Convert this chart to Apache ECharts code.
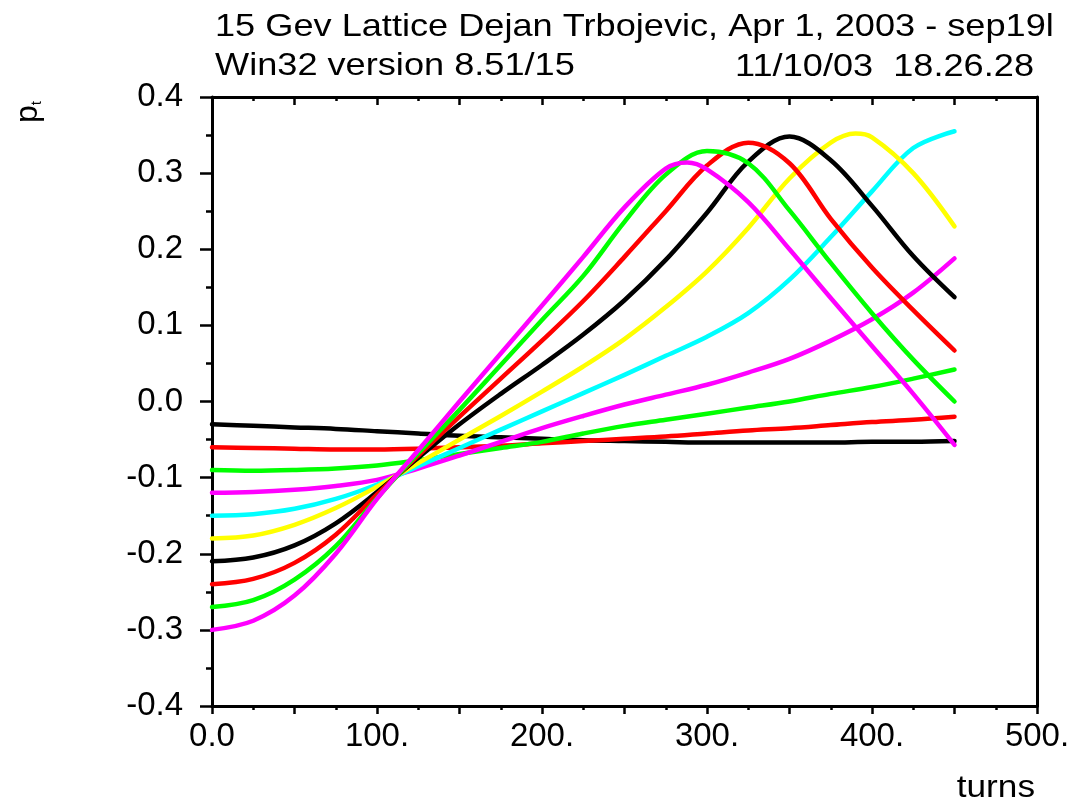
<!DOCTYPE html>
<html>
<head>
<meta charset="utf-8">
<script src="https://cdn.jsdelivr.net/npm/echarts@6/dist/echarts.min.js"></script>
<style>
html,body{margin:0;padding:0;background:#fff;}
#chart{width:1076px;height:805px;}
</style>
</head>
<body>
<div id="chart"></div>
<script>
// ---- data ----
const turns = [0,25,50,75,100,125,150,175,200,225,250,275,300,325,350,375,400,425,450];

const black1   = [-0.030,-0.032,-0.034,-0.036,-0.039,-0.042,-0.045,-0.047,-0.049,-0.051,-0.052,-0.053,-0.054,-0.054,-0.054,-0.054,-0.053,-0.053,-0.052];
const red2     = [-0.060,-0.061,-0.062,-0.063,-0.063,-0.062,-0.060,-0.058,-0.055,-0.052,-0.049,-0.046,-0.042,-0.038,-0.035,-0.031,-0.027,-0.024,-0.020];
const green3   = [-0.090,-0.091,-0.090,-0.088,-0.084,-0.077,-0.069,-0.061,-0.053,-0.042,-0.032,-0.024,-0.016,-0.008,0.000,0.010,0.019,0.030,0.042];
const magenta4 = [-0.120,-0.119,-0.116,-0.111,-0.103,-0.088,-0.071,-0.053,-0.035,-0.019,-0.004,0.009,0.022,0.038,0.056,0.080,0.108,0.143,0.188];
const cyan5    = [-0.150,-0.148,-0.141,-0.128,-0.109,-0.085,-0.061,-0.037,-0.013,0.011,0.035,0.060,0.085,0.116,0.160,0.216,0.276,0.333,0.355];
const yellow6  = [-0.180,-0.176,-0.162,-0.140,-0.112,-0.081,-0.050,-0.019,0.013,0.046,0.082,0.124,0.171,0.228,0.293,0.340,0.347,0.300,0.230];
const black7   = [-0.210,-0.205,-0.189,-0.160,-0.119,-0.074,-0.030,0.010,0.048,0.088,0.133,0.186,0.248,0.315,0.348,0.317,0.257,0.191,0.137];
const red8     = [-0.240,-0.233,-0.212,-0.175,-0.122,-0.071,-0.020,0.030,0.080,0.132,0.190,0.250,0.310,0.340,0.313,0.240,0.176,0.120,0.067];
const green9   = [-0.270,-0.261,-0.234,-0.190,-0.127,-0.068,-0.011,0.048,0.107,0.165,0.236,0.298,0.329,0.313,0.251,0.182,0.116,0.055,0.000];
const magenta10= [-0.300,-0.288,-0.255,-0.200,-0.128,-0.064,0.000,0.063,0.126,0.190,0.255,0.306,0.305,0.262,0.200,0.136,0.073,0.010,-0.057];

// extra points read at the crests that fall between samples: [series index, turns, pt]
const crestPoints = [[5, 390, 0.352], [9, 288, 0.314]];

const seriesValues = [black1, red2, green3, magenta4, cyan5, yellow6, black7, red8, green9, magenta10];
const seriesColors = ['#000000','#ff0000','#00ff00','#ff00ff','#00ffff','#ffff00','#000000','#ff0000','#00ff00','#ff00ff'];

const xTickLabels = ['0.0','100.','200.','300.','400.','500.'];
const yTickLabels = ['-0.4','-0.3','-0.2','-0.1','0.0','0.1','0.2','0.3','0.4'];

const titleLine1 = '15 Gev Lattice Dejan Trbojevic, Apr 1, 2003 - sep19l';
const titleLine2a = 'Win32 version 8.51/15';
const titleLine2b = '11/10/03  18.26.28';
const xName = 'turns';

// ---- chart ----
const FONT = '"Liberation Sans", Arial, sans-serif';
const chart = echarts.init(document.getElementById('chart'), null, {renderer:'canvas'});

const series = seriesValues.map((vals, i) => {
  const pts = turns.map((t, k) => [t, vals[k]]);
  crestPoints.filter(c => c[0] === i).forEach(c => pts.push([c[1], c[2]]));
  pts.sort((a, b) => a[0] - b[0]);
  return {
    type: 'line',
    xAxisIndex: 0, yAxisIndex: 0,
    data: pts,
    showSymbol: false,
    smooth: 0.35,
    lineStyle: {color: seriesColors[i], width: 4.5, cap: 'round', join: 'round'},
    itemStyle: {color: seriesColors[i]},
    animation: false,
    z: 2 + i
  };
});

const option = {
  backgroundColor: '#ffffff',
  animation: false,
  grid: {left: 212, top: 97, width: 825, height: 609, containLabel: false, outerBoundsMode: 'none'},
  xAxis: [
    {
      type: 'value', position: 'bottom', min: 0, max: 500, interval: 50,
      axisLine: {show: true, onZero: false, lineStyle: {color: '#000', width: 3}},
      axisTick: {show: true, length: 8, lineStyle: {color: '#000', width: 2.5}},
      minorTick: {show: true, splitNumber: 2, length: 4, lineStyle: {color: '#000', width: 2.5}},
      splitLine: {show: false},
      axisLabel: {
        show: true, margin: 14, color: '#000', fontSize: 33, fontFamily: FONT,
        formatter: v => (Math.round(v) % 100 === 0 ? xTickLabels[Math.round(v) / 100] : '')
      }
    },
    {
      type: 'value', position: 'top', min: 0, max: 500, interval: 50,
      axisLine: {show: true, onZero: false, lineStyle: {color: '#000', width: 3}},
      axisTick: {show: true, inside: true, length: 8, lineStyle: {color: '#000', width: 2.5}},
      minorTick: {show: true, splitNumber: 2, length: 4, lineStyle: {color: '#000', width: 2.5}},
      splitLine: {show: false},
      axisLabel: {show: false}
    }
  ],
  yAxis: [
    {
      type: 'value', position: 'left', min: -0.4, max: 0.4, interval: 0.1,
      axisLine: {show: true, onZero: false, lineStyle: {color: '#000', width: 3}},
      axisTick: {show: true, length: 12, lineStyle: {color: '#000', width: 2.5}},
      minorTick: {show: true, splitNumber: 2, length: 6, lineStyle: {color: '#000', width: 2.5}},
      splitLine: {show: false},
      axisLabel: {
        show: true, margin: 29, color: '#000', fontSize: 33, fontFamily: FONT,
        formatter: v => yTickLabels[Math.round((v + 0.4) * 10)]
      }
    },
    {
      type: 'value', position: 'right', min: -0.4, max: 0.4, interval: 0.1,
      axisLine: {show: true, onZero: false, lineStyle: {color: '#000', width: 3}},
      axisTick: {show: false}, minorTick: {show: false},
      splitLine: {show: false}, axisLabel: {show: false}
    }
  ],
  graphic: [
    {type: 'text', x: 215, y: 27, scaleX: 1.13, originX: 0, originY: 0,
     style: {text: titleLine1, fontSize: 32, fontFamily: FONT, fill: '#000', align: 'left', verticalAlign: 'middle'}},
    {type: 'text', x: 215, y: 66, scaleX: 1.13, originX: 0, originY: 0,
     style: {text: titleLine2a, fontSize: 32, fontFamily: FONT, fill: '#000', align: 'left', verticalAlign: 'middle'}},
    {type: 'text', x: 1034, y: 67, scaleX: 1.13, originX: 0, originY: 0,
     style: {text: titleLine2b, fontSize: 32, fontFamily: FONT, fill: '#000', align: 'right', verticalAlign: 'middle'}},
    {type: 'text', x: 1035, y: 788, scaleX: 1.1, originX: 0, originY: 0,
     style: {text: xName, fontSize: 32, fontFamily: FONT, fill: '#000', align: 'right', verticalAlign: 'middle'}},
    {type: 'text', x: 28, y: 112, rotation: Math.PI / 2,
     style: {text: '{p|p}{t|t}', fill: '#000', align: 'center', verticalAlign: 'middle',
       rich: {
         p: {fontSize: 32, fontFamily: FONT, lineHeight: 32},
         t: {fontSize: 15, fontFamily: FONT, lineHeight: 15, verticalAlign: 'bottom'}
       }}}
  ],
  series: series
};
chart.setOption(option);
</script>
</body>
</html>
